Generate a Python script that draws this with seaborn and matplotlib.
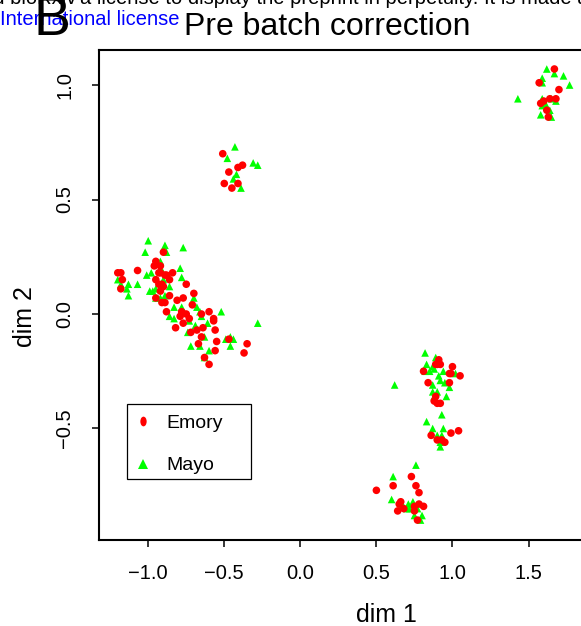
import matplotlib
matplotlib.use("Agg")
import matplotlib.pyplot as plt
from matplotlib.lines import Line2D
from matplotlib.patches import Rectangle
from matplotlib.markers import MarkerStyle
from matplotlib.transforms import Affine2D
import pandas as pd
import seaborn as sns

# MDS coordinates per sample, grouped by site
emory_x = [
    1.67, 1.57, 1.70, 1.60, 1.64, 1.68, 1.62, 1.63, 1.58,
    -0.51, -0.47, -0.41, -0.38, -0.50, -0.45, -0.41,
    -1.20, -1.18, -1.17, -1.18, -1.07, -0.90, -0.95, -0.96, -0.92, -0.92,
    -0.88, -0.84, -0.86, -0.95, -0.93, -0.91, -0.90, -0.75, -0.92, -0.70,
    -0.95, -0.86, -0.89, -0.91, -0.81, -0.77, -0.71, -0.60, -0.88, -0.78,
    -0.75, -0.79, -0.73, -0.77, -0.82, -0.65, -0.57, -0.57, -0.56, -0.64,
    -0.68, -0.72, -0.65, -0.55, -0.67, -0.56, -0.63, -0.60, -0.47, -0.35,
    -0.37, -0.93, -0.89,
    0.91, 0.90, 0.92, 0.89, 1.00, 0.81, 0.98, 0.99, 1.05, 0.84, 0.98,
    0.89, 0.88, 0.90, 0.92, 0.99, 1.04, 0.86, 0.93, 0.95, 0.90,
    0.50, 0.61, 0.73, 0.76, 0.78, 0.66, 0.65, 0.68, 0.64, 0.75, 0.75,
    0.78, 0.81, 0.77,
]
emory_y = [
    1.07, 1.01, 0.98, 0.93, 0.94, 0.94, 0.89, 0.86, 0.92,
    0.70, 0.62, 0.64, 0.65, 0.57, 0.55, 0.57,
    0.18, 0.18, 0.15, 0.11, 0.19, 0.27, 0.23, 0.21, 0.21, 0.18,
    0.17, 0.18, 0.15, 0.15, 0.13, 0.13, 0.12, 0.13, 0.10, 0.09,
    0.07, 0.08, 0.05, 0.05, 0.06, 0.07, 0.04, 0.01, 0.01, 0.01,
    0.00, -0.01, -0.02, -0.04, -0.06, 0.00, -0.02, -0.03, -0.07, -0.06,
    -0.07, -0.08, -0.10, -0.12, -0.13, -0.16, -0.19, -0.22, -0.11, -0.13,
    -0.17, 0.18, 0.17,
    -0.20, -0.22, -0.22, -0.22, -0.23, -0.25, -0.26, -0.26, -0.27, -0.30, -0.30,
    -0.36, -0.38, -0.39, -0.39, -0.52, -0.51, -0.53, -0.55, -0.56, -0.55,
    -0.77, -0.75, -0.71, -0.75, -0.78, -0.82, -0.83, -0.85, -0.86, -0.84, -0.86,
    -0.83, -0.84, -0.90,
]
mayo_x = [
    1.62, 1.67, 1.73, 1.77, 1.59, 1.59, 1.43, 1.59, 1.65, 1.68, 1.59, 1.64,
    1.58, 1.65, 1.61,
    -0.43, -0.48, -0.31, -0.28, -0.44, -0.42, -0.39,
    -1.00, -0.89, -1.02, -0.88, -0.77, -0.92, -0.79, -1.01, -0.98, -1.07,
    -1.20, -1.18, -1.14, -1.13, -1.13, -0.99, -0.97, -0.78, -0.86, -0.90,
    -0.92, -0.95, -0.89, -0.83, -0.78, -0.70, -0.68, -0.66, -0.65, -0.86,
    -0.83, -0.73, -0.69, -0.61, -0.74, -0.63, -0.72, -0.66, -0.60, -0.63,
    -0.52, -0.28, -0.49, -0.46, -0.44, -0.46, -0.91, -0.95,
    0.82, 0.89, 0.83, 0.87, 0.82, 0.85, 0.88, 0.94, 0.91, 0.92,
    1.02, 0.95, 0.98, 0.87, 0.87, 0.90, 0.96, 0.88, 0.62, 0.93,
    0.83, 0.87, 0.94, 0.90, 0.93, 0.92, 0.92,
    0.76, 0.61, 0.60, 0.71, 0.74, 0.67, 0.70, 0.72, 0.77, 0.80, 0.75, 0.79,
]
mayo_y = [
    1.07, 1.05, 1.04, 1.00, 1.03, 1.01, 0.94, 0.94, 0.94, 0.93, 0.91, 0.89,
    0.87, 0.86, 0.92,
    0.73, 0.68, 0.66, 0.65, 0.59, 0.61, 0.55,
    0.32, 0.30, 0.27, 0.27, 0.29, 0.23, 0.20, 0.17, 0.18, 0.13,
    0.15, 0.13, 0.11, 0.13, 0.08, 0.10, 0.10, 0.16, 0.12, 0.15,
    0.07, 0.07, 0.08, 0.03, 0.03, 0.07, 0.03, 0.01, -0.01, -0.01,
    -0.02, -0.03, -0.05, -0.04, -0.08, -0.10, -0.14, -0.14, -0.16, -0.19,
    0.01, -0.04, -0.11, -0.10, -0.11, -0.14, 0.19, 0.11,
    -0.17, -0.19, -0.22, -0.23, -0.25, -0.25, -0.24, -0.25, -0.27, -0.29,
    -0.26, -0.30, -0.32, -0.31, -0.34, -0.34, -0.36, -0.36, -0.31, -0.44,
    -0.47, -0.50, -0.50, -0.53, -0.53, -0.56, -0.58,
    -0.66, -0.71, -0.81, -0.83, -0.82, -0.83, -0.85, -0.85, -0.85, -0.88, -0.88, -0.90,
]
sites = ["Emory", "Mayo"]
site_colors = {"Emory": "#FF0000", "Mayo": "#00FF00"}
site_markers = {"Emory": "o", "Mayo": "^"}
x_ticks = [-1.0, -0.5, 0.0, 0.5, 1.0, 1.5]
y_ticks = [-0.5, 0.0, 0.5, 1.0]

df = pd.concat([
    pd.DataFrame({"dim1": mayo_x, "dim2": mayo_y, "site": "Mayo"}),
    pd.DataFrame({"dim1": emory_x, "dim2": emory_y, "site": "Emory"}),
], ignore_index=True)

sns.set_theme(style="white")
plt.rcParams["font.family"] = ["Liberation Sans", "DejaVu Sans"]
plt.rcParams["text.color"] = "black"
plt.rcParams["axes.labelcolor"] = "black"

W, H = 581, 626
fig = plt.figure(figsize=(W / 100, H / 100), dpi=100)


def fx(px):
    return px / W


def fy(py):
    return 1 - py / H


# plot region runs slightly past the right edge of the canvas
ax = fig.add_axes([fx(99), fy(540), fx(588) - fx(99), fy(50) - fy(540)])

sns.scatterplot(data=df, x="dim1", y="dim2", hue="site", style="site",
                palette=site_colors, markers=site_markers,
                hue_order=sites, style_order=sites,
                s=30, linewidth=0, legend=False, ax=ax)

ax.set_xlim(-1.3235, 1.891)
ax.set_ylim(-0.987, 1.153)
ax.set_xticks(x_ticks)
ax.set_yticks(y_ticks)
ax.set_xlabel("")
ax.set_ylabel("")
for sp in ax.spines.values():
    sp.set_visible(True)
    sp.set_color("black")
    sp.set_linewidth(1.5)
ax.tick_params(axis="both", direction="out", length=5, width=1.1,
               colors="black", labelcolor="black", labelsize=14.5,
               bottom=True, left=True)
ax.tick_params(axis="x", pad=12.5)
ax.tick_params(axis="y", pad=13, labelrotation=90)
for lab in ax.get_yticklabels():
    lab.set_va("center")

# axis labels and title
fig.text(fx(386.5), fy(622), "dim 1", ha="center", va="baseline", fontsize=18)
fig.text(fx(24.5), fy(317), "dim 2", ha="center", va="center", rotation=90,
         fontsize=18)
fig.text(fx(327.7), fy(35), "Pre batch correction", ha="center",
         va="baseline", fontsize=23)

# page header remnants and panel letter
fig.text(fx(76), fy(4), "granted bioRxiv", ha="right", va="baseline",
         fontsize=14.5)
fig.text(fx(80), fy(4),
         "a license to display the preprint in perpetuity. It is made available under a",
         ha="left", va="baseline", fontsize=14.5)
fig.text(fx(0), fy(25), "International license", ha="left", va="baseline",
         fontsize=14.5, color="#0000FF")
fig.text(fx(33), fy(35), "B", ha="left", va="baseline", fontsize=40)

# legend
fig.add_artist(Rectangle((fx(127), fy(479)), fx(251) - fx(127),
                         fy(404) - fy(479), transform=fig.transFigure,
                         fill=False, edgecolor="black", linewidth=0.9))
oval = MarkerStyle("o", transform=Affine2D().scale(0.65, 1.0))
handles = [
    Line2D([], [], linestyle="none", marker=oval, markersize=7,
           markerfacecolor=site_colors["Emory"], markeredgewidth=0),
    Line2D([], [], linestyle="none", marker="^", markersize=6.5,
           markerfacecolor=site_colors["Mayo"], markeredgewidth=0),
]
ax.legend(handles, sites, loc="upper left",
          bbox_to_anchor=(fx(132), fy(414)), bbox_transform=fig.transFigure,
          frameon=False, fontsize=14, handlelength=1.1, handletextpad=0.65,
          labelspacing=1.3, borderpad=0, borderaxespad=0)

fig.savefig("out.png", dpi=100)
